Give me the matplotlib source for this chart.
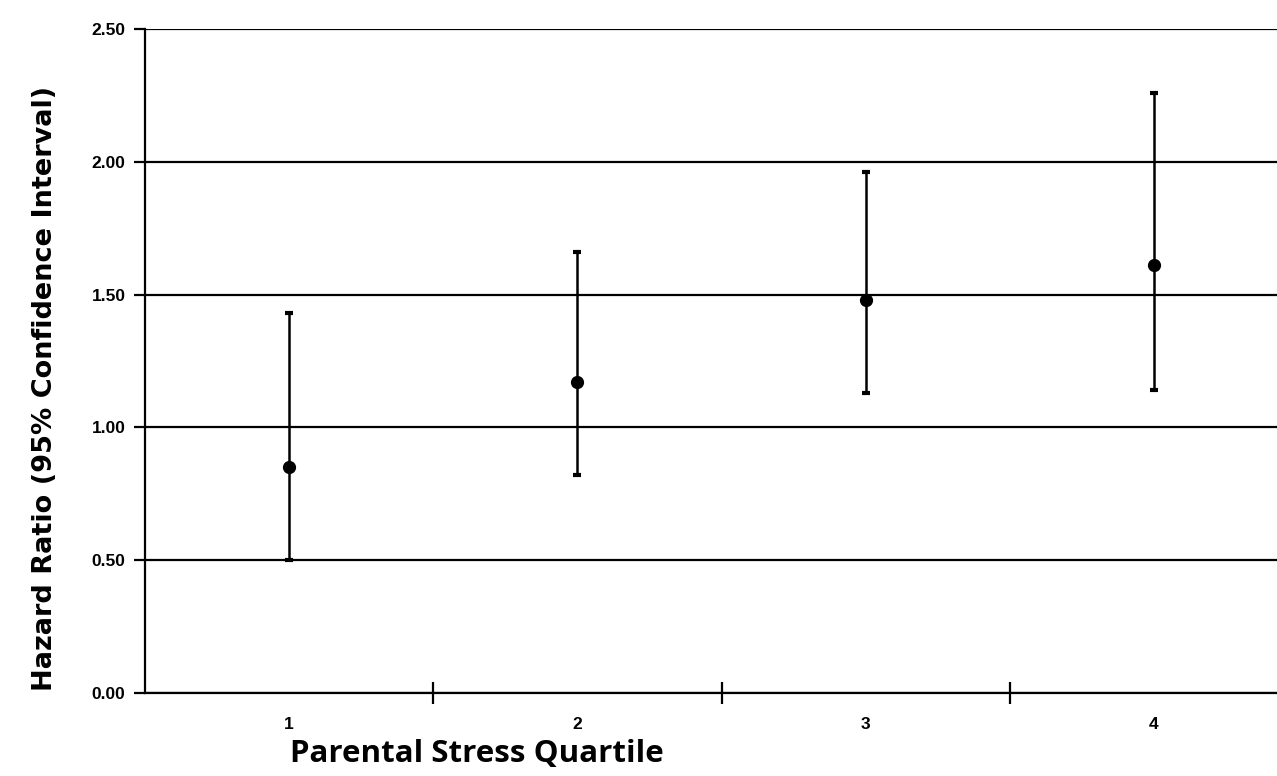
import numpy as np
import matplotlib.pyplot as plt

quartiles = [1, 2, 3, 4]
hazard = [0.85, 1.17, 1.48, 1.61]
ci_low = [0.50, 0.82, 1.13, 1.14]
ci_high = [1.43, 1.66, 1.96, 2.26]
y_ticks = [0.00, 0.50, 1.00, 1.50, 2.00, 2.50]

fig = plt.figure(figsize=(12.77, 7.76), dpi=100)
# axis runs past the right edge of the picture, as in the original
ax = fig.add_axes([145 / 1277, 1 - 693 / 776, 1153 / 1277, 664 / 776])

hazard = np.array(hazard)
yerr = [hazard - np.array(ci_low), np.array(ci_high) - hazard]
ax.errorbar(quartiles, hazard, yerr=yerr, fmt='o', color='black',
            markersize=8.5, elinewidth=1.8, capsize=3, capthick=3, zorder=3)

ax.set_xlim(0.5, 4.5)
ax.set_ylim(0, 2.5)
ax.set_yticks(y_ticks)
ax.set_yticklabels(['%.2f' % v for v in y_ticks])
ax.yaxis.grid(True, color='black', linewidth=1.6)
ax.set_axisbelow(True)

ax.set_xticks(quartiles)
ax.set_xticklabels([str(q) for q in quartiles])
ax.set_xticks([1.5, 2.5, 3.5], minor=True)
ax.tick_params(axis='x', which='major', length=0, pad=17)
ax.tick_params(axis='x', which='minor', direction='inout', length=16, width=1.6)
ax.tick_params(axis='y', direction='out', length=8, width=1.6, pad=6)
for lbl in ax.get_xticklabels() + ax.get_yticklabels():
    lbl.set_fontfamily('Liberation Sans')
    lbl.set_fontweight('bold')
    lbl.set_fontsize(12.5)

for s in ['top', 'right']:
    ax.spines[s].set_visible(False)
for s in ['left', 'bottom']:
    ax.spines[s].set_linewidth(1.6)

fig.text(45 / 1277, 1 - 388 / 776, 'Hazard Ratio (95% Confidence Interval)',
         rotation=90, ha='center', va='center', fontsize=19.5,
         fontweight='bold', family='DejaVu Sans')
fig.text(290 / 1277, 1 - 762 / 776, 'Parental Stress Quartile',
         ha='left', va='baseline', fontsize=22.5, fontweight='bold',
         family='Open Sans')

fig.savefig('out.png', dpi=100)
